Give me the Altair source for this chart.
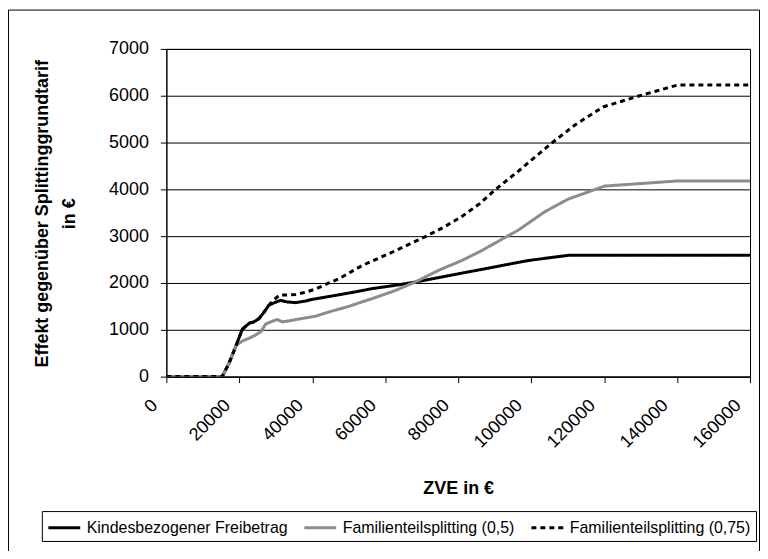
import altair as alt
import pandas as pd

series_names = [
    "Kindesbezogener Freibetrag",
    "Familienteilsplitting (0,5)",
    "Familienteilsplitting (0,75)",
]

# Kindesbezogener Freibetrag
kfb_x = [0, 15300, 17200, 19000, 20800, 22700, 24000, 25400, 26800, 28100, 29500,
         31300, 33100, 35400, 38200, 40000, 44500, 51800, 56400, 62800, 68200,
         81000, 96500, 99200, 110100, 160000]
kfb_y = [0, 0, 290, 640, 1010, 1140, 1170, 1240, 1380, 1525, 1575,
         1630, 1595, 1580, 1615, 1650, 1710, 1810, 1880, 1950, 2020,
         2210, 2440, 2480, 2590, 2590]

# Familienteilsplitting (0,5)
fs05_x = [0, 15300, 17200, 19000, 20800, 22700, 24500, 25900, 27200, 28600, 30400,
          31800, 33600, 36300, 40900, 44500, 50000, 53600, 56400, 62800, 68200,
          74600, 81000, 86400, 92800, 96500, 103700, 110100, 120100, 140200, 160000]
fs05_y = [0, 0, 290, 660, 760, 820, 890, 960, 1120, 1170, 1220,
          1170, 1190, 1230, 1290, 1380, 1500, 1595, 1665, 1840, 2020,
          2270, 2480, 2690, 2970, 3130, 3520, 3790, 4070, 4180, 4180]

# Familienteilsplitting (0,75)
fs075_x = [0, 15300, 17200, 19000, 20800, 22700, 24000, 25400, 26800, 28100, 29500,
           31000, 33000, 35400, 38000, 40900, 44500, 47300, 53600, 62800, 71000,
           76000, 81000, 86000, 90100, 96500, 105500, 111900, 119700, 130200, 140200, 160000]
fs075_y = [0, 0, 290, 640, 1010, 1140, 1170, 1240, 1380, 1525, 1640,
           1740, 1745, 1755, 1800, 1870, 2000, 2090, 2370, 2690, 2990,
           3190, 3420, 3700, 3990, 4390, 4980, 5370, 5760, 6010, 6230, 6230]

x_ticks = [0, 20000, 40000, 60000, 80000, 100000, 120000, 140000, 160000]
y_ticks = [0, 1000, 2000, 3000, 4000, 5000, 6000, 7000]

rows = []
for name, xs, ys in zip(series_names, [kfb_x, fs05_x, fs075_x], [kfb_y, fs05_y, fs075_y]):
    for i, (xv, yv) in enumerate(zip(xs, ys)):
        rows.append({"series": name, "zve": xv, "effekt": yv, "idx": i})
df = pd.DataFrame(rows)

FONT = "Liberation Sans"

lines = alt.Chart(df).mark_line(clip=True).encode(
    x=alt.X(
        "zve:Q",
        scale=alt.Scale(domain=[0, 160000], nice=False, zero=False),
        axis=alt.Axis(
            values=x_ticks, title="ZVE in €", format="d",
            labelAngle=315, labelAlign="right", labelBaseline="middle",
            labelPadding=20, labelOffset=-12, labelOverlap=False, labelFlush=False,
            labelFont=FONT, labelFontSize=18, labelColor="#000000",
            tickSize=6, tickColor="#000000", domainColor="#000000",
            titleFont=FONT, titleFontSize=18, titleFontWeight="bold", titleColor="#000000",
            titleBaseline="alphabetic", titleY=117, grid=False,
        ),
    ),
    y=alt.Y(
        "effekt:Q",
        scale=alt.Scale(domain=[0, 7000], nice=False),
        axis=alt.Axis(
            values=y_ticks, title=["Effekt gegenüber Splittinggrundtarif", "in €"], format="d",
            labelFont=FONT, labelFontSize=18, labelColor="#000000", labelPadding=12,
            tickSize=6, tickColor="#000000", domainColor="#000000",
            grid=True, gridColor="#000000", gridWidth=1,
            titleFont=FONT, titleFontSize=18, titleFontWeight="bold", titleColor="#000000",
            titleAngle=270, titleAlign="center", titleBaseline="top",
            titleX=-133, titleY=165, titleLineHeight=27,
        ),
    ),
    color=alt.Color(
        "series:N", sort=series_names, title=None,
        scale=alt.Scale(domain=series_names, range=["#000000", "#8c8c8c", "#000000"]),
    ),
    strokeDash=alt.StrokeDash(
        "series:N", sort=series_names, title=None,
        scale=alt.Scale(domain=series_names, range=[[1, 0], [1, 0], [5, 4]]),
    ),
    strokeWidth=alt.StrokeWidth(
        "series:N", sort=series_names, title=None,
        scale=alt.Scale(domain=series_names, range=[3, 3, 1]),
    ),
    order=alt.Order("idx:Q"),
)

frame = alt.Chart(pd.DataFrame({"a": [0]})).mark_rect(
    filled=False, stroke="#000000", strokeWidth=1, fillOpacity=0
).encode(
    x=alt.value(-158.5), x2=alt.value(595.5), y=alt.value(-39), y2=alt.value(600)
)

chart = alt.layer(frame, lines).properties(
    width=586,
    height=329,
    autosize=alt.AutoSizeParams(type="none"),
    padding={"left": 159, "top": 40, "right": 10, "bottom": 174},
).configure_view(
    stroke="#000000", strokeWidth=1
).configure_legend(
    orient="none", legendX=-125, legendY=464, direction="horizontal",
    strokeColor="#000000", fillColor="#ffffff", padding=5, cornerRadius=0,
    symbolType="M-1,0H2.2", symbolSize=400, labelOffset=17, columnPadding=10,
    labelFont=FONT, labelFontSize=16, labelColor="#000000", labelLimit=400,
)

chart.save("out.html", embed_options={"renderer": "svg", "actions": False})
